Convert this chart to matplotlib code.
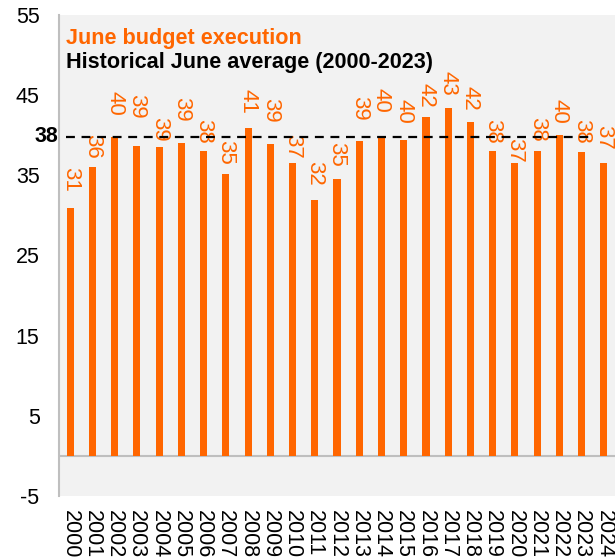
import matplotlib.pyplot as plt
from matplotlib.transforms import blended_transform_factory

plt.rcParams['font.family'] = ['Liberation Sans', 'DejaVu Sans']
plt.rcParams['axes.unicode_minus'] = False

years = [str(y) for y in range(2000, 2025)]
execution = [30.9, 36.1, 39.8, 38.7, 38.5, 39.0, 38.1, 35.2, 40.9, 38.9,
             36.6, 31.9, 34.6, 39.3, 39.7, 39.4, 42.3, 43.4, 41.6, 38.0,
             36.5, 38.0, 40.0, 37.9, 36.5]
value_labels = [31, 36, 40, 39, 39, 39, 38, 35, 41, 39,
                37, 32, 35, 39, 40, 40, 42, 43, 42, 38,
                37, 38, 40, 38, 37]
avg_value = 39.8
avg_label = '38'

# gap between bar top and its label, in pixels (labels are staggered)
label_gap = [16, 8, 21, 27, 6, 22, 7, 9, 14, 21,
             4, 14, 12, 20, 25, 16, 9, 12, 12, 8,
             1, 10, 12, 8, 14]

orange = '#ff6600'
grey = '#bfbfbf'

fig = plt.figure(figsize=(6.15, 5.59), dpi=100)
ax = fig.add_axes([0.096, 0.113, 0.904, 0.860])
ax.set_facecolor('#f2f2f2')

x = list(range(len(years)))
ax.bar(x, execution, width=0.32, color=orange, zorder=3)

for i, v in enumerate(execution):
    ax.annotate(str(value_labels[i]), (i, v), xytext=(0, label_gap[i] * 0.72),
                textcoords='offset points', rotation=-90, ha='center', va='bottom',
                color=orange, fontsize=16, zorder=4)

ax.axhline(0, color=grey, lw=1.5, zorder=2)
ax.plot([-0.2, len(years) - 1.5], [avg_value, avg_value], color='black', lw=1.6,
        dashes=(4, 3), zorder=5)
tr = blended_transform_factory(ax.transAxes, ax.transData)
ax.text(-0.002, avg_value, avg_label, transform=tr, ha='right', va='center',
        fontsize=15.5, fontweight='bold')

ax.text(0.013, 0.952, 'June budget execution', transform=ax.transAxes,
        color=orange, fontsize=15.6, fontweight='bold', va='center')
ax.text(0.013, 0.902, 'Historical June average (2000-2023)', transform=ax.transAxes,
        color='black', fontsize=15.6, fontweight='bold', va='center')

ax.set_xlim(-0.5, len(years) - 0.5)
ax.set_ylim(-5, 55)
ax.set_yticks([-5, 5, 15, 25, 35, 45, 55])
ax.set_xticks(x)
ax.set_xticklabels(years, rotation=-90)
ax.tick_params(axis='y', length=0, labelsize=15.5, pad=14)
ax.tick_params(axis='x', length=0, labelsize=15.5, pad=10)

for s in ['top', 'right', 'bottom']:
    ax.spines[s].set_visible(False)
ax.spines['left'].set_color(grey)
ax.spines['left'].set_linewidth(1.5)

plt.savefig('out.png', dpi=100)
